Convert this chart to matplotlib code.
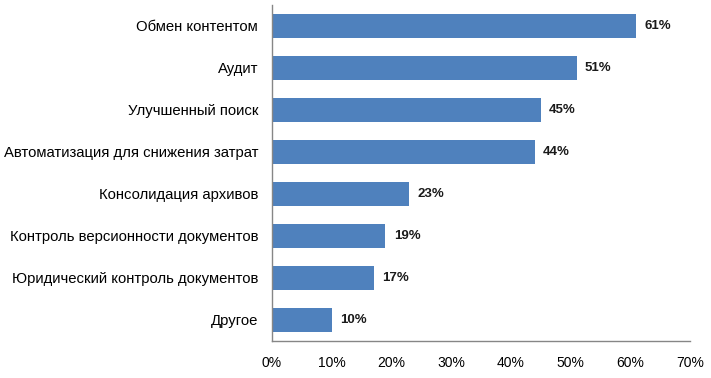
import matplotlib
matplotlib.use("Agg")
import matplotlib.pyplot as plt
from matplotlib.ticker import PercentFormatter

# ----------------------------------------
# Data
# ----------------------------------------

categories = [
    "Обмен контентом",
    "Аудит",
    "Улучшенный поиск",
    "Автоматизация для снижения затрат",
    "Консолидация архивов",
    "Контроль версионности документов",
    "Юридический контроль документов",
    "Другое",
]
values = [61, 51, 45, 44, 23, 19, 17, 10]
x_ticks = [0, 10, 20, 30, 40, 50, 60, 70]

plt.rcParams['font.family'] = ['Liberation Sans', 'DejaVu Sans']

fig = plt.figure(figsize=(7.11, 3.78), dpi=100)
ax = fig.add_axes([0.3826, 0.0979, 0.5879, 0.8889])

pos = list(range(len(categories)))
bars = ax.barh(pos, values, height=0.57, color="#4F81BD")

# value labels right of each bar
for y, v in zip(pos, values):
    ax.annotate(f"{v}%", (v, y), xytext=(6, 0), textcoords="offset points",
                va="center", ha="left", fontsize=9.5, fontweight="bold",
                color="#1a1a1a")

ax.set_ylim(len(categories) - 0.5, -0.5)
ax.set_xlim(0, 70)
ax.set_xticks(x_ticks)
ax.xaxis.set_major_formatter(PercentFormatter(decimals=0))
ax.set_yticks(pos)
ax.set_yticklabels(categories, fontsize=10.7)

ax.tick_params(axis="x", length=0, pad=11, labelsize=10)
ax.tick_params(axis="y", length=0, pad=10)

for side in ("top", "right"):
    ax.spines[side].set_visible(False)
for side in ("left", "bottom"):
    ax.spines[side].set_color("#868686")
    ax.spines[side].set_linewidth(1.0)

fig.savefig("out.png", dpi=100)
